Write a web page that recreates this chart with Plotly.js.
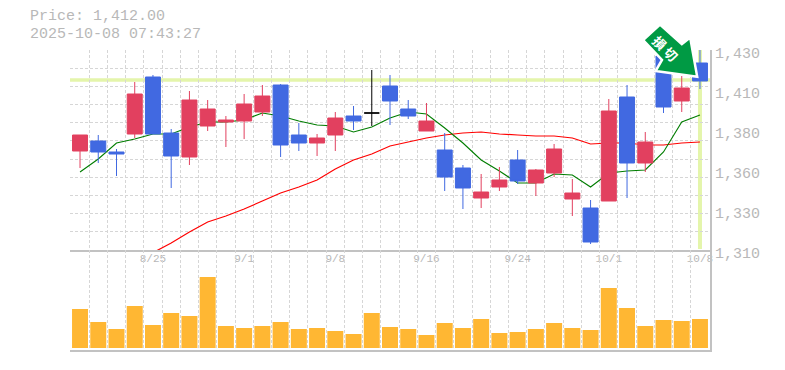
<!DOCTYPE html>
<html>
<head>
<meta charset="utf-8">
<script src="https://cdn.plot.ly/plotly-3.0.1.min.js"></script>
<style>html,body{margin:0;padding:0;background:#fff}</style>
</head>
<body>
<div id="chart" style="width:785px;height:370px"></div>
<script>
const dates = ['8/19','8/20','8/21','8/22','8/25','8/26','8/27','8/28','8/29','9/1','9/2','9/3','9/4','9/5','9/8','9/9','9/10','9/11','9/12','9/16','9/17','9/18','9/19','9/22','9/24','9/25','9/26','9/29','9/30','10/1','10/2','10/3','10/6','10/7','10/8'];
const open  = [1369.4,1375.4,1368.8,1379.6,1413.8,1380.2,1365.8,1384.4,1386.8,1387.4,1392.8,1409,1379,1374.2,1379,1390.4,1392.2,1408.4,1394.6,1381.4,1370,1359.2,1341.2,1347.8,1364,1350.2,1356.2,1340.6,1335.2,1339.4,1401.8,1362.2,1426.4,1399.4,1422.2];
const high  = [1379,1379,1370.6,1410.8,1415,1382.6,1405.4,1400,1390.4,1403.6,1409,1409.6,1386.2,1379.6,1392.8,1396.4,1418,1415,1400,1398.2,1380.2,1361,1355.6,1359.8,1370,1358.6,1373.6,1352.6,1340,1400.6,1409,1380.8,1426.4,1414.4,1430];
const low   = [1359.2,1362.2,1354.4,1377.2,1379.6,1347.2,1361,1381.4,1371.8,1376.6,1390.4,1365.8,1369.4,1366.4,1369.4,1382,1384.4,1385,1388.6,1381.4,1345.4,1334.6,1335.2,1345.4,1349.6,1342.4,1353.8,1330.4,1313.6,1339.4,1341.2,1356.8,1392.2,1392.8,1406.6];
const close = [1379,1368.8,1367.6,1403.6,1379.6,1366.4,1400,1394.6,1388,1397.6,1402.4,1373,1374.2,1377.2,1389.2,1387.4,1392.2,1399.4,1390.4,1387.4,1353.8,1347.2,1344.8,1352,1351.4,1358,1370.6,1344.2,1314.8,1393.4,1362.2,1374.8,1395.8,1407.2,1411.4];
const maShort = [1356.8,1364.6,1374.2,1376.6,1379.6,1379.6,1383.8,1386.8,1386.8,1388,1392.2,1390.4,1387.4,1385,1384.4,1380.8,1383.8,1389.2,1392.8,1391.6,1383.2,1374.2,1364,1357.4,1350.2,1350.2,1355.6,1355,1347.8,1356.2,1357.4,1358,1368.8,1386.8,1391];
const maLong = [null,null,null,null,1308.4,1314.2,1320.8,1326.8,1330.4,1334.6,1339.4,1344.2,1347.8,1352,1358.6,1364,1367.6,1372.4,1374.8,1377.2,1379,1380.2,1380.8,1379.6,1379,1378.4,1378.4,1377.2,1373.6,1374.2,1374.2,1373,1373,1374.2,1374.8];
const volume = [39,26,19,42,23,35,32,71,22,20,22,26,19,20,17,14,35,21,19,13,25,20,29,15,16,19,25,20,18,60,40,22,28,27,29];
const priceTicks = [1430,1406,1382,1358,1334,1310];
const priceTickText = ['1,430','1,410','1,380','1,360','1,330','1,310'];
const dateTicks = ['8/25','9/1','9/8','9/16','9/24','10/1','10/8'];
const lastPrice = 1412;
const headerLines = ['Price: 1,412.00','2025-10-08 07:43:27'];
const arrowLabel = '損 切';

const xs = dates.map((_, i) => i);
const keep = xs.filter(i => open[i] !== close[i]);
const flat = xs.filter(i => open[i] === close[i]);
const pick = (a, idx) => idx.map(i => a[i]);

const UP = '#e2405f', DOWN = '#4169e1', GRID = '#d6d6d6', AXIS = '#c2c2c2', TXT = '#b8b8b8', PALE = '#e4f5ab';
const DASH = '3px,2px';
const side = c => ({line:{color:c,width:1}, fillcolor:c});
const candle = (idx, up, down) => ({
  type:'candlestick', x:idx, open:pick(open,idx), high:pick(high,idx), low:pick(low,idx), close:pick(close,idx),
  increasing:side(up), decreasing:side(down), hoverinfo:'skip', showlegend:false, xaxis:'x3', yaxis:'y3'
});
const data = [
  {type:'bar', x:xs, y:volume, marker:{color:'#ffb733', line:{width:0}}, xaxis:'x2', yaxis:'y2', hoverinfo:'skip', showlegend:false},
  {type:'scatter', mode:'lines', x:xs, y:maLong, line:{color:'#ff0000',width:1.2}, cliponaxis:false, hoverinfo:'skip', showlegend:false, xaxis:'x', yaxis:'y'},
  {type:'scatter', mode:'lines', x:xs, y:maShort, line:{color:'#007d00',width:1.1}, hoverinfo:'skip', showlegend:false, xaxis:'x', yaxis:'y'},
  candle(keep, UP, DOWN),
  candle(flat, '#000000', '#000000')
];
const xRange = [-0.55, 34.55];
const priceRange = [1310, 1430];
const layout = {
  width:785, height:370, autosize:false,
  margin:{l:70, r:75, t:50, b:20, pad:0},
  paper_bgcolor:'#fff', plot_bgcolor:'rgba(0,0,0,0)', showlegend:false,
  boxgap:0.177, boxgroupgap:0, bargap:0.123, hovermode:false, dragmode:false,
  font:{family:'"Liberation Mono", monospace', color:TXT, size:15},
  xaxis:{type:'linear', range:xRange, anchor:'y', tick0:-0.5, dtick:1, showticklabels:false, ticks:'', showgrid:true, gridcolor:GRID, griddash:DASH, gridwidth:1,
    showline:true, linecolor:AXIS, linewidth:2, zeroline:false, fixedrange:true},
  xaxis2:{type:'linear', range:xRange, anchor:'y2', showticklabels:false, ticks:'', tick0:-0.5, dtick:1, showgrid:true, gridcolor:GRID, griddash:DASH, gridwidth:1,
    showline:true, linecolor:AXIS, linewidth:2, zeroline:false, fixedrange:true},
  xaxis3:{type:'linear', range:xRange, overlaying:'x', anchor:'y3', side:'bottom', tickmode:'array', tickvals:dateTicks.map(d => dates.indexOf(d)), ticktext:dateTicks,
    tickfont:{size:11, color:TXT, family:'"Liberation Mono", monospace'}, ticks:'', showgrid:false, rangeslider:{visible:false}, showline:false, zeroline:false, fixedrange:true},
  yaxis:{domain:[1/3,1], range:priceRange, side:'right', anchor:'x', tick0:1310, dtick:120/11, showticklabels:false, ticks:'', showgrid:true, gridcolor:GRID, griddash:DASH, gridwidth:1,
    showline:true, linecolor:AXIS, linewidth:2, zeroline:false, fixedrange:true},
  yaxis2:{domain:[0,1/3], range:[-2,98], side:'right', anchor:'x2', showticklabels:false, ticks:'', showgrid:false,
    showline:true, linecolor:AXIS, linewidth:2, zeroline:false, fixedrange:true},
  yaxis3:{range:priceRange, overlaying:'y', side:'right', anchor:'x3', tickmode:'array', tickvals:priceTicks, ticktext:priceTickText,
    ticks:'', showgrid:false, tickfont:{size:15, color:TXT, family:'"Liberation Mono", monospace'}, ticklabelshift:3, ticklabelstandoff:4,
    showline:false, zeroline:false, fixedrange:true},
  shapes:[
    {type:'line', layer:'below', xref:'x domain', yref:'y', x0:0, x1:1, y0:lastPrice, y1:lastPrice, line:{color:PALE,width:3.5}},
    {type:'line', layer:'below', xref:'x', yref:'y domain', x0:34, x1:34, y0:0.005, y1:1, line:{color:PALE,width:4}},
    {type:'path', layer:'above', xref:'paper', yref:'paper', fillcolor:'#009a44', line:{color:'#ffffff',width:2.5},
     path:'M 0.9219 1.0850 L 0.8955 1.0333 L 0.9250 0.9667 L 0.9150 0.9300 L 0.9800 0.9110 L 0.9690 1.0420 L 0.9560 1.0200 Z'}
  ],
  annotations:[
    {xref:'paper', yref:'paper', x:-0.066, y:1.1100, xanchor:'left', yanchor:'middle', showarrow:false, text:headerLines[0], font:{size:15,color:TXT}},
    {xref:'paper', yref:'paper', x:-0.066, y:1.0533, xanchor:'left', yanchor:'middle', showarrow:false, text:headerLines[1], font:{size:15,color:TXT}},
    {xref:'paper', yref:'paper', x:0.9308, y:1.0057, xanchor:'center', yanchor:'middle', showarrow:false, textangle:45, text:arrowLabel,
     font:{size:13,color:'#ffffff',family:'"Noto Sans CJK JP", sans-serif',weight:700}}
  ]
};
Plotly.newPlot('chart', data, layout, {staticPlot:true, displayModeBar:false});
</script>
</body>
</html>
